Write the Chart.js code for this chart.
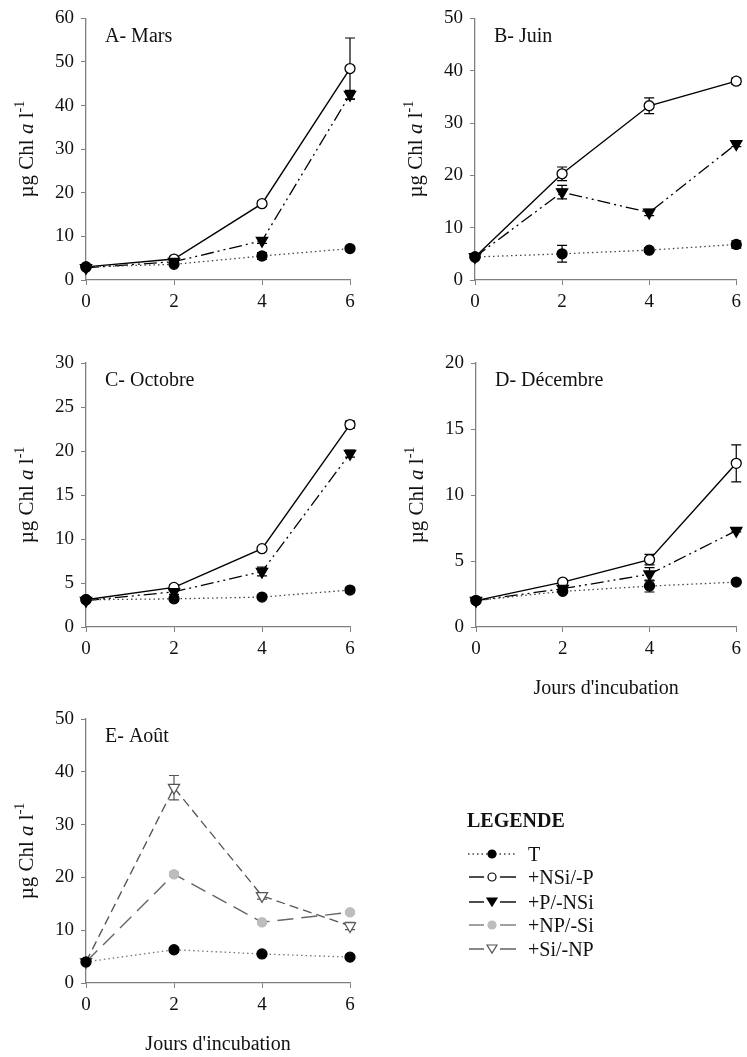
<!DOCTYPE html>
<html>
<head>
<meta charset="utf-8">
<script src="https://cdn.jsdelivr.net/npm/chart.js@4.4.1/dist/chart.umd.min.js"></script>
<style>
  body { margin: 0; background: #fff; }
  #page { position: relative; width: 747px; height: 1057px; overflow: hidden; font-family: "Liberation Serif", serif; }
  canvas { position: absolute; }
  #legend { position: absolute; left: 0; top: 0; }
</style>
</head>
<body>
<div id="page">
  <canvas id="chartA" width="370" height="320" style="left:0;top:0"></canvas>
  <canvas id="chartB" width="377" height="320" style="left:370px;top:0"></canvas>
  <canvas id="chartC" width="370" height="360" style="left:0;top:320px"></canvas>
  <canvas id="chartD" width="377" height="400" style="left:370px;top:320px"></canvas>
  <canvas id="chartE" width="370" height="397" style="left:0;top:660px"></canvas>
  <svg id="legend" width="747" height="1057"></svg>
</div>
<script>
// jours d'incubation
const days = [0, 2, 4, 6];

// A- Mars
const marsT     = [3.0, 3.6, 5.5, 7.2];
const marsNSi   = [3.0, 4.8, 17.5, 48.5];
const marsP     = [2.8, 4.2, 9.0, 42.5];
const marsErrT   = [0.2, 0.4, 0.8, 0.4];
const marsErrNSi = [0.2, 0.4, 0.6, 7.0];
const marsErrP   = [0.2, 0.4, 0.6, 1.0];

// B- Juin
const juinT     = [4.4, 5.0, 5.7, 6.8];
const juinNSi   = [4.4, 20.3, 33.3, 38.0];
const juinP     = [4.4, 16.8, 12.9, 26.0];
const juinErrT   = [0.2, 1.6, 0.4, 0.7];
const juinErrNSi = [0.2, 1.3, 1.5, 0.6];
const juinErrP   = [0.2, 1.3, 0.6, 0.5];

// C- Octobre
const octT     = [3.1, 3.2, 3.4, 4.2];
const octNSi   = [3.1, 4.5, 8.9, 23.0];
const octP     = [3.0, 4.0, 6.3, 19.7];
const octErrT   = [0.1, 0.2, 0.1, 0.3];
const octErrNSi = [0.1, 0.3, 0.2, 0.4];
const octErrP   = [0.1, 0.3, 0.5, 0.4];

// D- Décembre
const decT     = [2.0, 2.7, 3.1, 3.4];
const decNSi   = [2.0, 3.4, 5.1, 12.4];
const decP     = [2.0, 2.9, 4.0, 7.3];
const decErrT   = [0.1, 0.1, 0.45, 0.1];
const decErrNSi = [0.1, 0.1, 0.4, 1.4];
const decErrP   = [0.1, 0.2, 0.5, 0.1];

// E- Août
const aoutT    = [4.0, 6.3, 5.5, 4.9];
const aoutNP   = [4.0, 20.6, 11.5, 13.4];
const aoutSi   = [4.0, 37.0, 16.5, 10.8];
const aoutErrT  = [0.2, 0.4, 0.2, 0.2];
const aoutErrNP = [0.2, 0.4, 0.3, 0.3];
const aoutErrSi = [0.2, 2.3, 0.6, 0.7];

const serif = '"Liberation Serif", "Times New Roman", serif';

function pts(vals) {
  return vals.map((v, i) => ({ x: days[i], y: v }));
}

// styles des séries
function serieT(vals, errs, light) {
  return { label: 'T', data: pts(vals), errors: errs,
    borderColor: light ? '#777' : '#444', borderWidth: 1.3, borderDash: [1.5, 3],
    pointStyle: 'circle', pointRadius: 5, pointBackgroundColor: '#000', pointBorderColor: '#000',
    errColor: '#000' };
}
function serieNSi(vals, errs) {
  return { label: '+NSi/-P', data: pts(vals), errors: errs,
    borderColor: '#000', borderWidth: 1.4,
    pointStyle: 'circle', pointRadius: 5, pointBackgroundColor: '#fff', pointBorderColor: '#000', pointBorderWidth: 1.3,
    errColor: '#000' };
}
function serieP(vals, errs) {
  return { label: '+P/-NSi', data: pts(vals), errors: errs,
    borderColor: '#000', borderWidth: 1.3, borderDash: [13, 4, 2, 4, 2, 4],
    pointStyle: 'triangle', pointRotation: 180, pointRadius: 6.5, pointBackgroundColor: '#000', pointBorderColor: '#000',
    errColor: '#000' };
}
function serieNP(vals, errs) {
  return { label: '+NP/-Si', data: pts(vals), errors: errs,
    borderColor: '#666', borderWidth: 1.4, borderDash: [16, 8],
    pointStyle: 'circle', pointRadius: 4.5, pointBackgroundColor: '#bdbdbd', pointBorderColor: '#bdbdbd',
    errColor: '#999' };
}
function serieSi(vals, errs) {
  return { label: '+Si/-NP', data: pts(vals), errors: errs,
    borderColor: '#555', borderWidth: 1.3, borderDash: [9, 5],
    pointStyle: 'triangle', pointRotation: 180, pointRadius: 6.5, pointBackgroundColor: '#fff', pointBorderColor: '#555', pointBorderWidth: 1.2,
    errColor: '#555' };
}

// barres d'erreur + textes
const decor = {
  id: 'decor',
  beforeDatasetsDraw(chart) {
    const ctx = chart.ctx, xs = chart.scales.x, ys = chart.scales.y;
    chart.data.datasets.forEach(ds => {
      if (!ds.errors) return;
      ctx.save();
      ctx.strokeStyle = ds.errColor || '#000';
      ctx.lineWidth = 1.2;
      ds.data.forEach((p, j) => {
        const e = ds.errors[j];
        if (!e) return;
        const x = xs.getPixelForValue(p.x);
        const y1 = ys.getPixelForValue(p.y + e);
        const y2 = ys.getPixelForValue(p.y - e);
        ctx.beginPath();
        ctx.moveTo(x, y1); ctx.lineTo(x, y2);
        ctx.moveTo(x - 5, y1); ctx.lineTo(x + 5, y1);
        ctx.moveTo(x - 5, y2); ctx.lineTo(x + 5, y2);
        ctx.stroke();
      });
      ctx.restore();
    });
  },
  afterDraw(chart, args, opts) {
    const ctx = chart.ctx, ca = chart.chartArea;
    ctx.save();
    ctx.fillStyle = '#111';
    ctx.textBaseline = 'middle';
    ctx.textAlign = 'left';
    ctx.font = '20px ' + serif;
    ctx.fillText(opts.label, ca.left + 19, ca.top + 18);
    if (opts.xTitle) {
      ctx.textAlign = 'center';
      ctx.fillText(opts.xTitle, (ca.left + ca.right) / 2, ca.bottom + 62);
    }
    // titre de l'axe y : µg Chl a l-1
    ctx.translate(ca.left - 53, (ca.top + ca.bottom) / 2);
    ctx.rotate(-Math.PI / 2);
    ctx.textAlign = 'left';
    ctx.textBaseline = 'alphabetic';
    const parts = [
      { t: 'µg Chl ', f: '21px ' + serif, dy: 0 },
      { t: 'a', f: 'italic 21px ' + serif, dy: 0 },
      { t: ' l', f: '21px ' + serif, dy: 0 },
      { t: '-1', f: '14px ' + serif, dy: -9 }
    ];
    let total = 0;
    parts.forEach(p => { ctx.font = p.f; p.w = ctx.measureText(p.t).width; total += p.w; });
    let x = -total / 2;
    parts.forEach(p => { ctx.font = p.f; ctx.fillText(p.t, x, p.dy); x += p.w; });
    ctx.restore();
  }
};

function makeChart(id, box, yMax, yStep, datasets, label, xTitle) {
  const c = document.getElementById(id);
  const W = c.width, H = c.height;
  const yW = 60, xH = 40;
  return new Chart(c, {
    type: 'line',
    data: { datasets: datasets.map(d => Object.assign({ fill: false, tension: 0, clip: false }, d)) },
    options: {
      responsive: false,
      animation: false,
      devicePixelRatio: 1,
      layout: { padding: { left: box.l - yW, top: box.t, right: W - box.r, bottom: H - box.b - xH } },
      plugins: {
        legend: { display: false },
        tooltip: { enabled: false },
        decor: { label: label, xTitle: xTitle }
      },
      scales: {
        x: {
          type: 'linear', min: 0, max: 6,
          afterFit: s => { s.height = xH; },
          border: { color: '#808080', width: 1.3 },
          grid: { drawOnChartArea: false, drawTicks: true, tickLength: 5, color: '#808080' },
          ticks: { stepSize: 2, padding: 6, color: '#111', font: { family: serif, size: 19 } }
        },
        y: {
          type: 'linear', min: 0, max: yMax,
          afterFit: s => { s.width = yW; },
          border: { color: '#808080', width: 1.3 },
          grid: { drawOnChartArea: false, drawTicks: true, tickLength: 5, color: '#808080' },
          ticks: { stepSize: yStep, padding: 7, color: '#111', font: { family: serif, size: 19 } }
        }
      }
    },
    plugins: [decor]
  });
}

makeChart('chartA', { l: 86, t: 17, r: 350, b: 280 }, 60, 10,
  [serieT(marsT, marsErrT), serieP(marsP, marsErrP), serieNSi(marsNSi, marsErrNSi)], 'A- Mars');
makeChart('chartB', { l: 105, t: 17, r: 369, b: 280 }, 50, 10,
  [serieT(juinT, juinErrT), serieP(juinP, juinErrP), serieNSi(juinNSi, juinErrNSi)], 'B- Juin');
makeChart('chartC', { l: 86, t: 43, r: 350, b: 307 }, 30, 5,
  [serieT(octT, octErrT), serieP(octP, octErrP), serieNSi(octNSi, octErrNSi)], 'C- Octobre');
makeChart('chartD', { l: 106, t: 43, r: 369, b: 307 }, 20, 5,
  [serieT(decT, decErrT), serieP(decP, decErrP), serieNSi(decNSi, decErrNSi)], 'D- Décembre', "Jours d'incubation");
makeChart('chartE', { l: 86, t: 59, r: 350, b: 323 }, 50, 10,
  [serieT(aoutT, aoutErrT, true), serieNP(aoutNP, aoutErrNP), serieSi(aoutSi, aoutErrSi)], 'E- Août', "Jours d'incubation");

// légende
const legendRows = [
  { text: 'T', stroke: '#444', dash: '1.5,3', mark: 'dot', fill: '#000', edge: '#000' },
  { text: '+NSi/-P', stroke: '#000', dash: '', mark: 'dot', fill: '#fff', edge: '#000' },
  { text: '+P/-NSi', stroke: '#000', dash: '', mark: 'tri', fill: '#000', edge: '#000' },
  { text: '+NP/-Si', stroke: '#777', dash: '', mark: 'dot', fill: '#bdbdbd', edge: '#bdbdbd' },
  { text: '+Si/-NP', stroke: '#555', dash: '', mark: 'tri', fill: '#fff', edge: '#555' }
];
const legendY = [854, 877, 902, 925, 949];
let svg = '<text x="467" y="827" font-family=\'"Liberation Serif", serif\' font-weight="bold" font-size="20" fill="#111">LEGENDE</text>';
legendRows.forEach((r, i) => {
  const y = legendY[i];
  const dash = r.dash ? ' stroke-dasharray="' + r.dash + '"' : '';
  if (r.dash) {
    svg += '<line x1="468" y1="' + y + '" x2="516" y2="' + y + '" stroke="' + r.stroke + '" stroke-width="1.3"' + dash + '/>';
  } else {
    svg += '<line x1="469" y1="' + y + '" x2="484" y2="' + y + '" stroke="' + r.stroke + '" stroke-width="1.4"/>';
    svg += '<line x1="500" y1="' + y + '" x2="516" y2="' + y + '" stroke="' + r.stroke + '" stroke-width="1.4"/>';
  }
  if (r.mark === 'dot') {
    svg += '<circle cx="492" cy="' + y + '" r="4" fill="' + r.fill + '" stroke="' + r.edge + '" stroke-width="1.2"/>';
  } else {
    svg += '<polygon points="' + (487) + ',' + (y - 4) + ' ' + (497) + ',' + (y - 4) + ' 492,' + (y + 4) + '" fill="' + r.fill + '" stroke="' + r.edge + '" stroke-width="1.2"/>';
  }
  svg += '<text x="528" y="' + (y + 7) + '" font-family=\'"Liberation Serif", serif\' font-size="20" fill="#111">' + r.text + '</text>';
});
document.getElementById('legend').innerHTML = svg;
</script>
</body>
</html>
